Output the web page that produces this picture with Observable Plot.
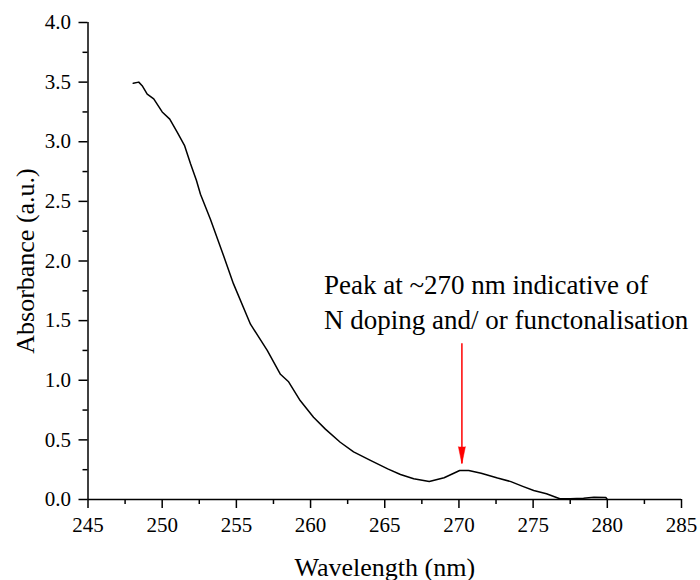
<!DOCTYPE html>
<html><head><meta charset="utf-8">
<script src="https://cdn.jsdelivr.net/npm/d3@7"></script>
<script src="https://cdn.jsdelivr.net/npm/@observablehq/plot@0.6"></script>
<style>body{margin:0;background:#fff} svg text{font-family:"Liberation Serif","Times New Roman",serif !important}</style>
</head><body><div id="chart"></div>
<script>
const wavelength = [248.05, 248.42, 248.65, 248.99, 249.43, 250.0, 250.51, 251.01, 251.5, 251.91, 252.31, 252.58, 253.25, 254.15, 254.8, 255.95, 257.08, 257.97, 258.5, 259.3, 260.2, 261.0, 262.0, 262.9, 264.0, 265.2, 266.06, 266.95, 268.0, 269.0, 270.05, 270.66, 271.5, 272.6, 273.5, 274.3, 275.04, 275.9, 276.8, 277.5, 278.4, 279.1, 279.9, 280.0];
const absorbance = [3.49, 3.50, 3.47, 3.40, 3.36, 3.25, 3.19, 3.08, 2.97, 2.815, 2.675, 2.56, 2.35, 2.04, 1.81, 1.47, 1.25, 1.05, 0.99, 0.83, 0.69, 0.59, 0.48, 0.40, 0.33, 0.257, 0.21, 0.174, 0.151, 0.182, 0.243, 0.243, 0.22, 0.18, 0.15, 0.11, 0.075, 0.048, 0.006, 0.006, 0.011, 0.019, 0.017, 0.0];
const xTicks = [245, 250, 255, 260, 265, 270, 275, 280, 285];
const xMinorTicks = [247.5, 252.5, 257.5, 262.5, 267.5, 272.5, 277.5, 282.5];
const yTicks = [0, 0.5, 1.0, 1.5, 2.0, 2.5, 3.0, 3.5, 4.0];
const yMinorTicks = [0.25, 0.75, 1.25, 1.75, 2.25, 2.75, 3.25, 3.75];
const xTitle = "Wavelength (nm)";
const yTitle = "Absorbance (a.u.)";
const annotationLines = ["Peak at ~270 nm indicative of", "N doping and/ or functonalisation"];
const annotationX = [260.9, 260.9];
const annotationY = [1.725, 1.431];
const arrowX = [270.2];
const arrowTop = [1.306];
const arrowTip = [0.30];

const data = wavelength.map((w, i) => ({w, a: absorbance[i]}));
const notes = annotationLines.map((t, i) => ({t, x: annotationX[i], y: annotationY[i]}));
const arrows = arrowX.map((x, i) => ({x, y1: arrowTop[i], y2: arrowTip[i]}));
const serif = "Liberation Serif";

const chart = Plot.plot({
  width: 700, height: 580,
  marginLeft: 87.5, marginRight: 19, marginTop: 22, marginBottom: 81,
  style: "font-size: 21px; color: #000; background: #fff; overflow: visible;",
  x: {domain: [245, 285]},
  y: {domain: [0, 4]},
  marks: [
    Plot.axisX({ticks: xTicks, tickSize: 9, tickPadding: 9, strokeWidth: 1.5, tickFormat: d => String(d), fontSize: 21, fontFamily: serif, fontVariant: "normal", label: null}),
    Plot.axisX({ticks: xMinorTicks, tickSize: 5, strokeWidth: 1.5, text: null, label: null}),
    Plot.axisY({ticks: yTicks, tickSize: 9, tickPadding: 8, strokeWidth: 1.5, tickFormat: d3.format(".1f"), fontSize: 21, fontFamily: serif, fontVariant: "normal", label: null}),
    Plot.axisY({ticks: yMinorTicks, tickSize: 5, strokeWidth: 1.5, text: null, label: null}),
    Plot.ruleY([0], {strokeWidth: 1.5}),
    Plot.ruleX([245], {strokeWidth: 1.5}),
    Plot.line(data, {x: "w", y: "a", stroke: "#000", strokeWidth: 1.5, curve: "linear"}),
    Plot.ruleX(arrows, {x: "x", y1: "y1", y2: "y2", stroke: "red", strokeWidth: 1.5}),
    Plot.vector(arrows, {x: "x", y: "y2", length: 17, r: 3.5, rotate: 180, shape: "spike", anchor: "end", fill: "red", stroke: "red", strokeWidth: 0.5}),
    Plot.text(notes, {x: "x", y: "y", text: "t", textAnchor: "start", lineAnchor: "bottom", fontSize: 27, fontFamily: serif}),
    Plot.text([xTitle], {frameAnchor: "bottom", textAnchor: "middle", dy: 76, lineAnchor: "bottom", fontSize: 26, fontFamily: serif}),
    Plot.text([yTitle], {frameAnchor: "left", textAnchor: "middle", dx: -54.5, dy: 0, rotate: -90, lineAnchor: "bottom", fontSize: 26, fontFamily: serif})
  ]
});
document.getElementById("chart").append(chart);
</script>
</body></html>
